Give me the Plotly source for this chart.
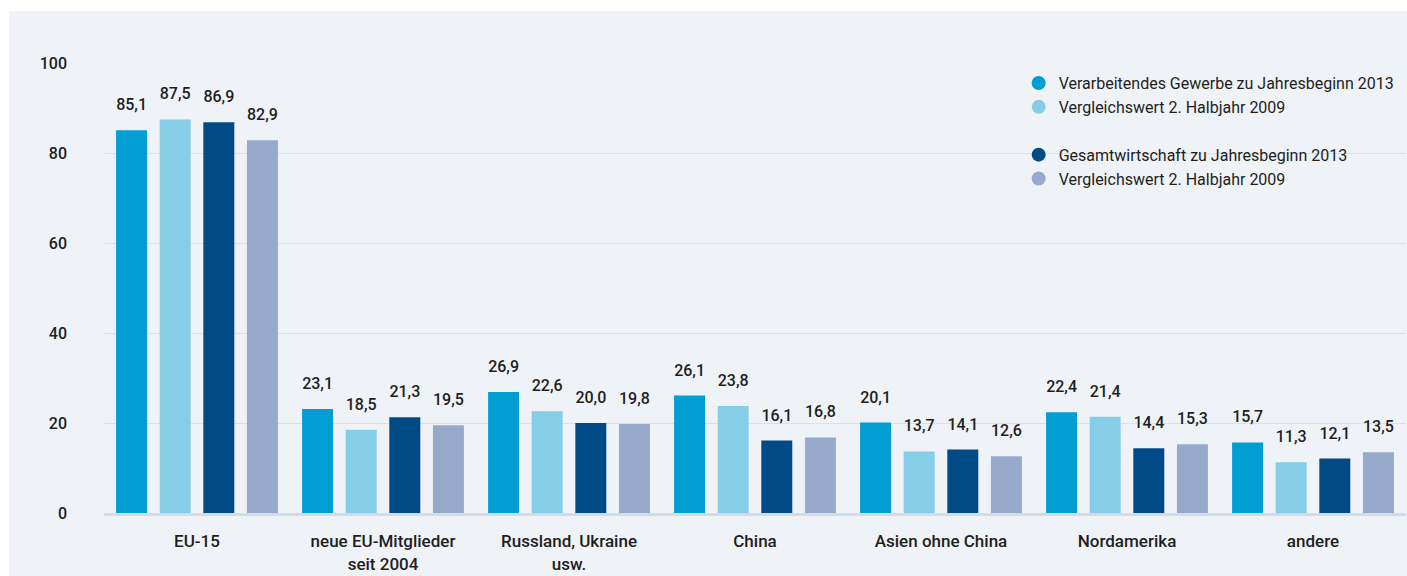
import plotly.graph_objects as go

# Regions (x-axis categories)
regionen = [
    "EU-15",
    "neue EU-Mitglieder<br>seit 2004",
    "Russland, Ukraine<br>usw.",
    "China",
    "Asien ohne China",
    "Nordamerika",
    "andere",
]

# Shares in percent per series
verarbeitendes_2013 = [85.1, 23.1, 26.9, 26.1, 20.1, 22.4, 15.7]
verarbeitendes_2009 = [87.5, 18.5, 22.6, 23.8, 13.7, 21.4, 11.3]
gesamt_2013 = [86.9, 21.3, 20.0, 16.1, 14.1, 14.4, 12.1]
gesamt_2009 = [82.9, 19.5, 19.8, 16.8, 12.6, 15.3, 13.5]

serien_namen = [
    "Verarbeitendes Gewerbe zu Jahresbeginn 2013",
    "Vergleichswert 2. Halbjahr 2009",
    "Gesamtwirtschaft zu Jahresbeginn 2013",
    "Vergleichswert 2. Halbjahr 2009",
]
serien_werte = [verarbeitendes_2013, verarbeitendes_2009, gesamt_2013, gesamt_2009]
farben = ["#009ed3", "#86cde8", "#004b87", "#97aacc"]
legenden_gruppen = ["vg", "vg", "gw", "gw"]

y_ticks = [0, 20, 40, 60, 80, 100]

FONT = "Roboto"
TEXT = "#1e1e1e"
PANEL = "#eff3f7"
GAP = 0.062

fig = go.Figure()

for i, (werte, farbe) in enumerate(zip(serien_werte, farben)):
    fig.add_trace(go.Bar(
        x=regionen,
        y=werte,
        offsetgroup=str(i),
        marker=dict(color=farbe, line=dict(width=0)),
        showlegend=False,
        hoverinfo="skip",
    ))

# Value labels, grouped like the bars and lifted above each bar top
for i, werte in enumerate(serien_werte):
    fig.add_trace(go.Scatter(
        x=regionen,
        y=werte,
        offsetgroup=str(i),
        mode="markers+text",
        marker=dict(size=24, color="rgba(0,0,0,0)"),
        text=[f"{v:.1f}".replace(".", ",") for v in werte],
        textposition="top center",
        textfont=dict(family=FONT, size=16, color=TEXT, weight=500),
        cliponaxis=False,
        showlegend=False,
        hoverinfo="skip",
    ))

# Legend entries with round markers
for name, farbe, gruppe in zip(serien_namen, farben, legenden_gruppen):
    fig.add_trace(go.Scatter(
        x=[None], y=[None],
        mode="markers",
        name=name,
        legendgroup=gruppe,
        marker=dict(symbol="circle", size=14, color=farbe),
    ))

fig.update_layout(
    width=1407,
    height=576,
    margin=dict(l=104, r=1, t=63, b=63),
    paper_bgcolor="white",
    plot_bgcolor=PANEL,
    barmode="group",
    bargap=GAP,
    bargroupgap=0.29,
    scattermode="group",
    scattergap=GAP,
    font=dict(family=FONT, size=16, color=TEXT),
    legend=dict(
        x=0.7025, xanchor="left",
        y=0.993, yanchor="top",
        bgcolor="rgba(0,0,0,0)",
        font=dict(family=FONT, size=16, color=TEXT),
        traceorder="grouped",
        tracegroupgap=24,
        itemwidth=30,
        itemclick=False,
        itemdoubleclick=False,
    ),
    showlegend=True,
    shapes=[
        # light panel behind the whole chart
        dict(type="rect", xref="paper", yref="paper", layer="below",
             x0=-95 / 1302, x1=1.0 + 1 / 1302, y0=-63 / 450, y1=(450 + 52) / 450,
             fillcolor=PANEL, line=dict(width=0)),
    ],
)

fig.update_xaxes(
    showgrid=False,
    showline=True,
    linecolor="#d3dce6",
    linewidth=3,
    ticks="",
    tickfont=dict(family=FONT, size=17, color=TEXT, weight=500),
    ticklabelstandoff=11,
    fixedrange=True,
)

fig.update_yaxes(
    range=[0, 100.05],
    tickvals=y_ticks,
    ticktext=[str(t) for t in y_ticks],
    showgrid=True,
    gridcolor="#d9e0e8",
    gridwidth=1,
    zeroline=False,
    showline=False,
    ticks="",
    tickfont=dict(family=FONT, size=16, color=TEXT, weight=500),
    ticklabelstandoff=36,
    fixedrange=True,
)

fig.write_html("out.html")
